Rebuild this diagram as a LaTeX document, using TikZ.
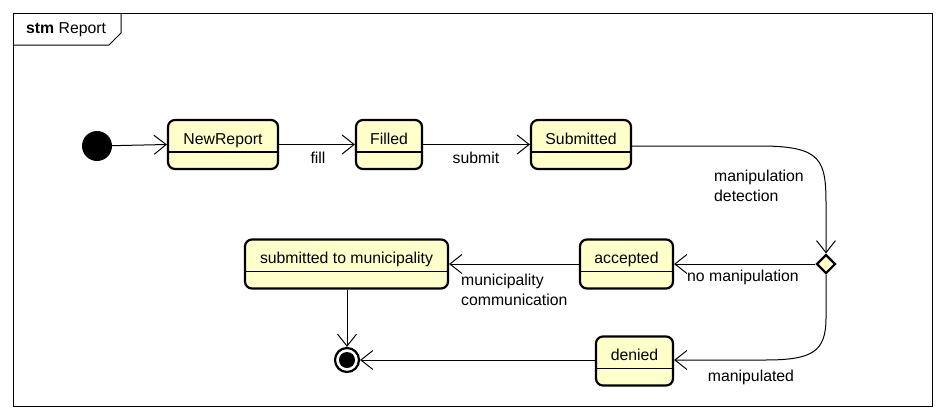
\documentclass[tikz,border=0pt]{standalone}
\usepackage{fontspec}
\setmainfont{Liberation Sans}
\usetikzlibrary{arrows.meta,shapes.geometric}
\definecolor{stfill}{RGB}{255,255,202}
\tikzset{
  stbox/.style={draw, line width=2.2pt, rounded corners=7pt, fill=stfill,
    inner xsep=0pt, inner ysep=0pt, text height=24pt, text depth=25pt,
    minimum height=49pt,
    path picture={\draw[line width=1.1pt] ([yshift=17pt]path picture bounding box.south west) -- ([yshift=17pt]path picture bounding box.south east);}},
  trans/.style={line width=1pt, -{Straight Barb[length=12pt,width=19pt,line width=1pt]}},
  lbl/.style={inner sep=0pt, align=left},
}
\begin{document}
\begin{tikzpicture}[x=1pt,y=-1pt, font=\fontsize{15.8}{20}\selectfont]
\useasboundingbox (0,0) rectangle (944,418);
\fill[white] (0,0) rectangle (944,418);
% frame
\draw[line width=1pt] (13,13) rectangle (932,406);
\draw[line width=1pt] (13,45) -- (109,45) -- (121,33) -- (121,13);
\node[anchor=west, inner sep=0pt] (title) at (26,30) {\textbf{stm} Report};
% initial
\node[circle, fill=black, minimum size=30pt, inner sep=0pt] (init) at (97,146) {};
% states
\node[stbox, minimum width=110pt] (newr) at (223,144.5) {NewReport};
\node[stbox, minimum width=66pt] (filled) at (389,144.5) {Filled};
\node[stbox, minimum width=100pt] (subm) at (581,144.5) {Submitted};
\node[diamond, draw, line width=2.2pt, fill=stfill, minimum size=19pt, inner sep=0pt] (dec) at (826,264) {};
\node[stbox, minimum width=93pt] (acc) at (626.5,264) {accepted};
\node[stbox, minimum width=203pt] (muni) at (346.5,264) {submitted to municipality};
\node[stbox, minimum width=77pt] (den) at (634.5,361) {denied};
% final
\node[circle, draw=black, line width=2.2pt, fill=white, minimum size=24pt, inner sep=0pt] (fin) at (347,360) {};
\fill[black] (fin.center) circle (8pt);
% transitions
\draw[trans] (init) -- (newr.west);
\draw[trans] (newr.east) -- (filled.west);
\draw[trans] (filled.east) -- (subm.west);
\coordinate (c1) at (760,146);
\coordinate (c2) at (826,205);
\draw[trans] (subm.east |- c1) -- (c1) .. controls (822,146) and (826,160) .. (c2) -- (dec.north);
\draw[trans] (dec.west) -- (acc.east);
\draw[trans] (acc.west) -- (muni.east);
\draw[trans] (muni.south -| fin) -- (fin.north);
\coordinate (d1) at (826,318);
\coordinate (d2) at (765,360);
\draw[trans] (dec.south) -- (d1) .. controls (826,352) and (812,360) .. (d2) -- (den.east |- d2);
\draw[trans] (den.west |- fin) -- (fin.east);
% labels
\node[lbl] (lfill) at (318,158) {fill};
\node[lbl] (lsub) at (476,158) {submit};
\node[lbl, anchor=west] (lman) at (714,186) {manipulation\\detection};
\node[lbl, anchor=west] (lno) at (687,277) {no manipulation};
\node[lbl, anchor=west] (lmc) at (461,290) {municipality\\communication};
\node[lbl] (lmd) at (751,377) {manipulated};
\end{tikzpicture}
\end{document}
